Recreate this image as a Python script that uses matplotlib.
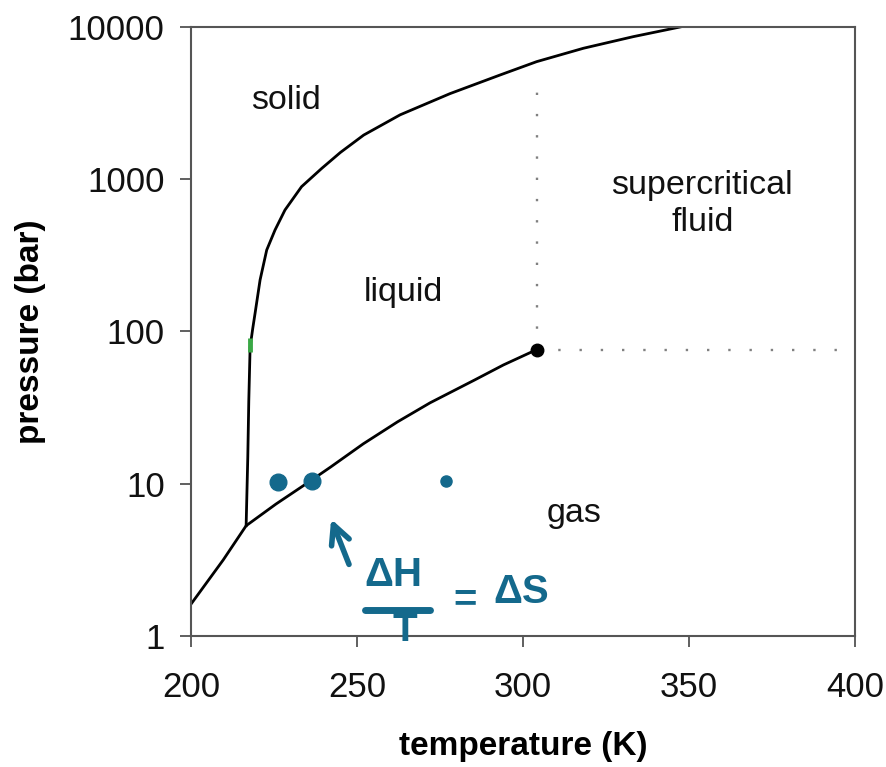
import numpy as np
import matplotlib
matplotlib.use('Agg')
import matplotlib.pyplot as plt

plt.rcParams['font.family'] = ['Liberation Sans', 'DejaVu Sans']

# melting curve (solid / liquid)
melt_T = [216.6, 217.1, 217.4, 217.8, 218.6, 219.3, 220.8, 222.8, 225.3, 228.3, 233.3, 239.4,
          245.0, 252.0, 263.0, 278.0, 293.1, 304.1, 318.2, 333.2, 347.3]
melt_P = [5.3, 15, 35, 79, 105, 132, 218, 343, 464, 628, 894, 1180,
          1500, 1950, 2650, 3650, 4840, 5920, 7250, 8640, 10000]

# sublimation + vaporisation curve up to the critical point
vap_T = [200.0, 209.7, 216.6, 225.6, 235.0, 242.1, 251.9, 262.2, 272.0, 285.4, 294.1, 304.1]
vap_P = [1.62, 3.16, 5.3, 7.36, 10.1, 12.9, 18.3, 25.5, 34.0, 48, 60.3, 76]

crit_T = 304.1
crit_P = 76
crit_top_P = 4840

# handwritten blue dots
hand_T = [226.3, 236.3]
hand_P = [10.3, 10.4]
hand_small_T = [276.9]
hand_small_P = [10.5]

x_ticks = [200, 250, 300, 350, 400]
y_ticks = [1, 10, 100, 1000, 10000]
y_tick_labels = ['1', '10', '100', '1000', '10000']

region_labels = [
    ('solid', 228.5, 3300),
    ('liquid', 264.0, 180),
    ('supercritical\nfluid', 354.0, 690),
    ('gas', 315.3, 6.4),
]

ink = '#14698c'

fig = plt.figure(figsize=(8.86, 7.67), dpi=100)
ax = fig.add_axes([0.2156, 0.1708, 0.7494, 0.794])

ax.plot(melt_T, melt_P, color='black', lw=2.0)
ax.plot(vap_T, vap_P, color='black', lw=2.0)
ax.plot([crit_T], [crit_P], 'o', mfc='black', mec='black', ms=9, zorder=5)

# dotted guides from the critical point
ax.plot([crit_T, crit_T], [crit_P, crit_top_P], color='#808080', lw=1.7, ls=(0, (1, 8)))
ax.plot([crit_T, 400], [crit_P, crit_P], color='#808080', lw=1.7, ls=(0, (1, 8)))

# small green mark on the melting line
ax.plot([217.8], [82], marker='|', color='#3aa845', ms=10, mew=3.5)

for txt, tx, ty in region_labels:
    ax.text(tx, ty, txt, ha='center', va='center', fontsize=24.5, color='#111111', linespacing=1.25)

# handwriting
ax.plot(hand_T, hand_P, 'o', color=ink, ms=12)
ax.plot(hand_small_T, hand_small_P, 'o', color=ink, ms=8)
ax.annotate('', xy=(241.9, 6.1), xytext=(247.9, 2.84),
            arrowprops=dict(arrowstyle='->', color=ink, lw=4, mutation_scale=34))
ax.text(261.0, 2.5, 'ΔH', ha='center', va='center', fontsize=29, color=ink, fontweight='bold')
ax.plot([252.5, 272], [1.48, 1.48], color=ink, lw=5, solid_capstyle='round')
ax.text(264.5, 1.1, 'T', ha='center', va='center', fontsize=29, color=ink, fontweight='bold',
        clip_on=False)
ax.text(282.5, 1.72, '=', ha='center', va='center', fontsize=29, color=ink, fontweight='bold')
ax.text(299.5, 1.95, 'ΔS', ha='center', va='center', fontsize=29, color=ink, fontweight='bold')

ax.set_yscale('log')
ax.set_xlim(200, 400)
ax.set_ylim(1, 10000)
ax.set_xticks(x_ticks)
ax.set_yticks(y_ticks)
ax.set_yticklabels(y_tick_labels)
ax.minorticks_off()
ax.tick_params(axis='both', direction='out', length=8, width=1.2, color='#444444',
               labelsize=25, labelcolor='#111111')
ax.tick_params(axis='y', pad=11)
ax.tick_params(axis='x', pad=17)
for s in ax.spines.values():
    s.set_color('#555555')
    s.set_linewidth(1.5)

ax.set_xlabel('temperature (K)', fontsize=24, fontweight='bold', labelpad=20)
ax.set_ylabel('pressure (bar)', fontsize=24, fontweight='bold', labelpad=16)

fig.savefig('out.png', dpi=100)
